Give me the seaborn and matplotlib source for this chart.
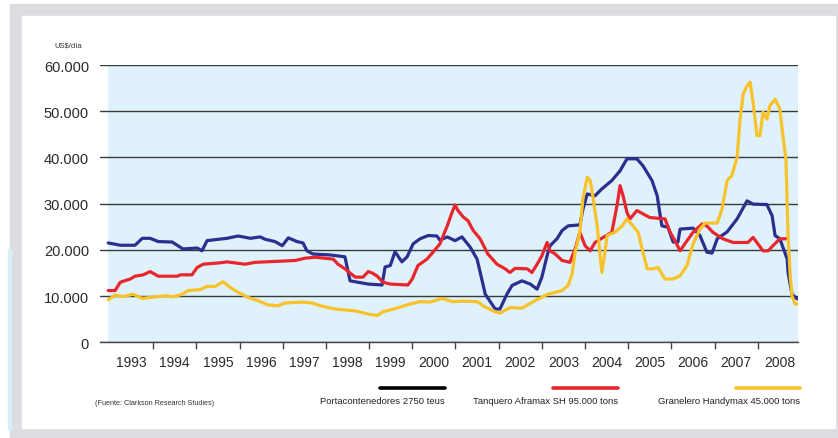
import matplotlib
matplotlib.use("Agg")
import matplotlib.pyplot as plt
from matplotlib.patches import Rectangle
from matplotlib.lines import Line2D
from matplotlib.ticker import FuncFormatter
import pandas as pd
import seaborn as sns

# ----------------------------------------------------------------------
# Data (US$/dia)
# ----------------------------------------------------------------------
cont_years = [1992.96, 1993.24, 1993.58, 1993.75, 1993.93, 1994.12, 1994.44, 1994.69,
              1995.02, 1995.13, 1995.25, 1995.71, 1995.97, 1996.25, 1996.48, 1996.59,
              1996.82, 1996.99, 1997.13, 1997.33, 1997.47, 1997.56, 1997.70, 1998.10,
              1998.44, 1998.56, 1998.98, 1999.30, 1999.37, 1999.49, 1999.60, 1999.76,
              1999.88, 2000.02, 2000.18, 2000.37, 2000.57, 2000.64, 2000.81, 2000.99,
              2001.15, 2001.34, 2001.50, 2001.69, 2001.92, 2002.03, 2002.19, 2002.31,
              2002.54, 2002.73, 2002.89, 2003.00, 2003.12, 2003.19, 2003.35, 2003.47,
              2003.61, 2003.88, 2003.95, 2004.05, 2004.23, 2004.39, 2004.62, 2004.81,
              2004.97, 2005.20, 2005.34, 2005.55, 2005.67, 2005.74, 2005.78, 2005.92,
              2006.04, 2006.15, 2006.20, 2006.50, 2006.66, 2006.82, 2006.94, 2007.06,
              2007.29, 2007.52, 2007.75, 2007.89, 2008.21, 2008.33, 2008.40, 2008.51,
              2008.68, 2008.70, 2008.79, 2008.91]
cont_vals = [21500, 21000, 21000, 22500, 22500, 21800, 21700, 20200,
             20400, 19800, 22000, 22500, 23000, 22500, 22800, 22300,
             21800, 20900, 22600, 21800, 21500, 19800, 19100, 18900,
             18500, 13300, 12600, 12400, 16300, 16600, 19600, 17400,
             18500, 21300, 22400, 23100, 23000, 22100, 22800, 22000,
             22800, 20600, 18000, 10400, 7200, 7200, 10400, 12300,
             13300, 12600, 11500, 14100, 18700, 20900, 22400, 24200,
             25200, 25400, 28800, 32100, 31700, 33200, 35000, 37100,
             39700, 39700, 38200, 35000, 31700, 27400, 25200, 24900,
             21700, 21700, 24500, 24700, 23100, 19500, 19300, 22400,
             23900, 26700, 30600, 29900, 29800, 27400, 23100, 22400,
             18000, 15100, 10400, 9400]

tank_years = [1992.96, 1993.12, 1993.24, 1993.47, 1993.58, 1993.77, 1993.93, 1994.12,
              1994.56, 1994.63, 1994.90, 1995.02, 1995.16, 1995.55, 1995.71, 1996.13,
              1996.36, 1997.29, 1997.52, 1997.75, 1998.17, 1998.28, 1998.44, 1998.68,
              1998.86, 1998.98, 1999.07, 1999.19, 1999.32, 1999.49, 1999.90, 2000.00,
              2000.13, 2000.34, 2000.48, 2000.64, 2000.81, 2000.92, 2000.99, 2001.06,
              2001.18, 2001.29, 2001.41, 2001.57, 2001.75, 2001.96, 2002.15, 2002.26,
              2002.38, 2002.66, 2002.77, 2002.89, 2003.00, 2003.12, 2003.19, 2003.31,
              2003.47, 2003.65, 2003.77, 2003.88, 2004.00, 2004.12, 2004.23, 2004.42,
              2004.62, 2004.74, 2004.81, 2004.88, 2004.97, 2005.04, 2005.20, 2005.50,
              2005.85, 2005.97, 2006.08, 2006.20, 2006.31, 2006.50, 2006.71, 2006.82,
              2006.96, 2007.19, 2007.43, 2007.77, 2007.89, 2008.12, 2008.24, 2008.35,
              2008.51, 2008.68]
tank_vals = [11200, 11200, 13000, 13700, 14300, 14600, 15300, 14300,
             14300, 14600, 14600, 16200, 16900, 17200, 17400, 16900,
             17300, 17700, 18200, 18400, 18000, 16900, 15900, 14100,
             14100, 15300, 15000, 14300, 13000, 12600, 12400, 13700,
             16600, 18000, 19500, 21300, 25200, 28100, 29700, 28500,
             27100, 26300, 24200, 22400, 19100, 16900, 15900, 15100,
             16000, 15900, 15100, 16900, 18700, 21600, 19800, 19100,
             17700, 17300, 20200, 23800, 20900, 19800, 21600, 22700,
             23800, 29600, 33900, 31700, 28100, 26700, 28500, 27000,
             26700, 23800, 22000, 19800, 21300, 23800, 25600, 25200,
             23800, 22400, 21600, 21600, 22700, 19800, 19800, 20900,
             22400, 22400]

bulk_years = [1992.96, 1993.12, 1993.31, 1993.54, 1993.75, 1993.93, 1994.32, 1994.46,
              1994.67, 1994.81, 1995.09, 1995.25, 1995.44, 1995.62, 1995.78, 1995.97,
              1996.20, 1996.43, 1996.66, 1996.89, 1997.06, 1997.45, 1997.68, 1997.91,
              1998.21, 1998.68, 1998.98, 1999.19, 1999.32, 1999.65, 1999.88, 2000.18,
              2000.41, 2000.69, 2000.92, 2001.18, 2001.50, 2001.69, 2001.92, 2002.03,
              2002.26, 2002.54, 2002.84, 2003.14, 2003.47, 2003.61, 2003.70, 2003.77,
              2003.88, 2003.95, 2004.05, 2004.12, 2004.19, 2004.28, 2004.35, 2004.39,
              2004.46, 2004.51, 2004.69, 2004.86, 2004.97, 2005.11, 2005.23, 2005.34,
              2005.44, 2005.57, 2005.69, 2005.85, 2006.04, 2006.20, 2006.36, 2006.50,
              2006.66, 2006.78, 2007.06, 2007.17, 2007.29, 2007.40, 2007.52, 2007.59,
              2007.66, 2007.75, 2007.82, 2007.89, 2007.98, 2008.05, 2008.12, 2008.21,
              2008.28, 2008.40, 2008.51, 2008.58, 2008.65, 2008.70, 2008.75, 2008.79,
              2008.86, 2008.93]
bulk_vals = [9200, 10200, 9900, 10400, 9500, 9700, 10100, 9800,
             10400, 11200, 11400, 12100, 12100, 13100, 11900, 10800,
             9700, 9000, 8100, 7900, 8500, 8700, 8500, 7800,
             7200, 6800, 6100, 5800, 6600, 7400, 8100, 8800,
             8700, 9500, 8800, 8900, 8800, 7600, 6600, 6300,
             7500, 7400, 9000, 10400, 11200, 12300, 14800, 19500,
             23800, 31000, 35700, 35000, 31000, 25200, 18700, 15100,
             19500, 23100, 23800, 25200, 26700, 25200, 23800, 19500,
             15900, 15900, 16200, 13700, 13700, 14400, 16600, 21300,
             24500, 25800, 25800, 28800, 35000, 36100, 40000, 48300,
             53700, 55500, 56300, 51900, 44700, 44700, 49800, 48300,
             51200, 52600, 50500, 44700, 39700, 23100, 14400, 10100,
             8300, 8300]

series_names = ["Portacontenedores 2750 teus",
                "Tanquero Aframax SH 95.000 tons",
                "Granelero Handymax 45.000 tons"]
year_labels = [str(y) for y in range(1993, 2009)]
y_ticks = [0, 10000, 20000, 30000, 40000, 50000, 60000]

BLUE = "#2b2f8f"
RED = "#e8262d"
YELLOW = "#f8c22a"
SKY = "#dff1fa"

# ----------------------------------------------------------------------
# Figure
# ----------------------------------------------------------------------
sns.set_theme(style="white")
plt.rcParams["font.family"] = ["Liberation Sans", "DejaVu Sans"]

W, H = 838, 439
fig = plt.figure(figsize=(W / 100, H / 100), dpi=100)


def box(x0, y0, x1, y1, color):
    # rectangle given in pixel coords (top-left origin), kept behind the axes
    fig.patches.append(Rectangle((x0 / W, 1 - y1 / H), (x1 - x0) / W, (y1 - y0) / H,
                                 transform=fig.transFigure, color=color, zorder=-5))


box(10, 5, 838, 439, "#dcdde1")
box(7.5, 250, 10.5, 430, "#d6eef5")
box(22, 17, 835, 429, "white")

ax = fig.add_axes([100 / W, (H - 343.3) / H, 698 / W, 277.3 / H])
ax.set_facecolor("none")

df = pd.concat([
    pd.DataFrame({"year": cont_years, "value": cont_vals, "serie": series_names[0]}),
    pd.DataFrame({"year": tank_years, "value": tank_vals, "serie": series_names[1]}),
    pd.DataFrame({"year": bulk_years, "value": bulk_vals, "serie": series_names[2]}),
])
palette = {series_names[0]: BLUE, series_names[1]: RED, series_names[2]: YELLOW}
for name in series_names:
    sns.lineplot(data=df[df["serie"] == name], x="year", y="value", color=palette[name],
                 lw=2.3, sort=False, estimator=None, ax=ax, zorder=3)

ax.axvspan(cont_years[0], 2008.93, color=SKY, zorder=0, lw=0)
ax.set_xlim(1992.77, 2008.93)
ax.set_ylim(0, 60000)
ax.set_xlabel("")
ax.set_ylabel("")

for s in ["top", "right", "left"]:
    ax.spines[s].set_visible(False)
ax.spines["bottom"].set_color("#444444")
ax.spines["bottom"].set_linewidth(1.0)

ax.set_yticks(y_ticks)
ax.yaxis.set_major_formatter(FuncFormatter(lambda v, p: f"{int(v):,}".replace(",", ".")))
ax.tick_params(axis="y", length=0, pad=8, labelsize=10.5, labelcolor="#2a2a2a")
ax.yaxis.grid(True, color="#3a3a3a", lw=1.0, zorder=1)
ax.set_axisbelow(True)

ax.set_xticks(range(1994, 2009))
ax.set_xticklabels([])
ax.set_xticks([y + 0.5 for y in range(1993, 2009)], minor=True)
ax.set_xticklabels(year_labels, minor=True)
ax.tick_params(axis="x", which="major", bottom=True, length=5, width=1,
               color="#444444", direction="out")
ax.tick_params(axis="x", which="minor", bottom=True, length=0, pad=9, labelsize=10,
               labelcolor="#2a2a2a")

fig.text(54 / W, 1 - 46 / H, "US$/día", fontsize=5.5, color="#333333", va="center", ha="left")
fig.text(95 / W, 1 - 404 / H, "(Fuente: Clarkson Research Studies)", fontsize=5.2,
         color="#333333", va="center", ha="left")

# legend: short line above each label
legend_items = [(380, 445, "black", series_names[0]),
                (553, 618, RED, series_names[1]),
                (736, 800, YELLOW, series_names[2])]
for x0, x1, col, label in legend_items:
    fig.add_artist(Line2D([x0 / W, x1 / W], [1 - 389 / H, 1 - 389 / H], color=col, lw=2.6,
                          transform=fig.transFigure))
    fig.text(x1 / W, 1 - 402 / H, label, fontsize=6.8, color="#222222", ha="right", va="center")

fig.savefig("out.png", dpi=100)
